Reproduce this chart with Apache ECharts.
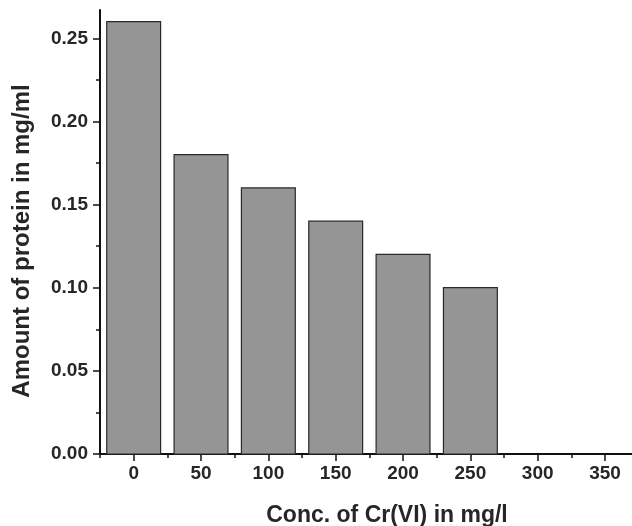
<!DOCTYPE html>
<html>
<head>
<meta charset="utf-8">
<script src="https://cdn.jsdelivr.net/npm/echarts@6/dist/echarts.min.js"></script>
<style>
  html, body { margin: 0; padding: 0; background: #fff; }
  #main { width: 632px; height: 526px; }
</style>
</head>
<body>
<div id="main"></div>
<script>
// data
var concentrations = [0, 50, 100, 150, 200, 250];
var proteinValues = [0.26, 0.18, 0.16, 0.14, 0.12, 0.10];
var xMajorTicks = [0, 50, 100, 150, 200, 250, 300, 350];
var xMinorTicks = [-25, 25, 75, 125, 175, 225, 275, 325];
var yMajorTicks = [0, 0.05, 0.10, 0.15, 0.20, 0.25];
var yMinorTicks = [0.025, 0.075, 0.125, 0.175, 0.225];
var barHalfWidth = 20; // bars span +/-20 around each concentration

var myChart = echarts.init(document.getElementById('main'));

var fontFam = '"Liberation Sans", Arial, sans-serif';
var textCol = '#262626';

var xRange = { min: -25, max: 370 };
var yRange = { min: 0, max: 0.267 };

var option = {
    animation: false,
    backgroundColor: '#fff',
    grid: { left: 100, right: 0, top: 10, bottom: 72, outerBoundsMode: 'none', containLabel: false },
    xAxis: [{
        type: 'value',
        min: xRange.min,
        max: xRange.max,
        splitLine: { show: false },
        axisLine: { onZero: false, lineStyle: { color: '#111', width: 2 } },
        axisTick: { customValues: xMajorTicks, length: 7, lineStyle: { color: '#111', width: 1.5 } },
        axisLabel: {
            customValues: xMajorTicks, margin: 10,
            fontFamily: fontFam, fontWeight: 'bold', fontSize: 19, color: textCol
        },
        name: 'Conc. of Cr(VI) in mg/l',
        nameLocation: 'middle',
        nameGap: 50,
        nameTextStyle: { fontFamily: fontFam, fontWeight: 'bold', fontSize: 23, color: textCol, padding: [0, 0, 0, 42] }
    }, {
        type: 'value',
        position: 'bottom',
        min: xRange.min,
        max: xRange.max,
        splitLine: { show: false },
        axisLine: { show: false, onZero: false },
        axisTick: { customValues: xMinorTicks, length: 4, lineStyle: { color: '#111', width: 1.5 } },
        axisLabel: { show: false }
    }],
    yAxis: [{
        type: 'value',
        min: yRange.min,
        max: yRange.max,
        splitLine: { show: false },
        axisLine: { show: true, onZero: false, lineStyle: { color: '#111', width: 2 } },
        axisTick: { show: true, customValues: yMajorTicks, length: 7, lineStyle: { color: '#111', width: 1.5 } },
        axisLabel: {
            customValues: yMajorTicks, margin: 12,
            formatter: function (v) { return v.toFixed(2); },
            fontFamily: fontFam, fontWeight: 'bold', fontSize: 19, color: textCol
        },
        name: 'Amount of protein in mg/ml',
        nameLocation: 'middle',
        nameGap: 66,
        nameTextStyle: { fontFamily: fontFam, fontWeight: 'bold', fontSize: 24, color: textCol, padding: [0, 18, 0, 0] }
    }, {
        type: 'value',
        position: 'left',
        min: yRange.min,
        max: yRange.max,
        splitLine: { show: false },
        axisLine: { show: false, onZero: false },
        axisTick: { show: true, customValues: yMinorTicks, length: 4, lineStyle: { color: '#111', width: 1.5 } },
        axisLabel: { show: false }
    }],
    series: [{
        type: 'custom',
        data: concentrations.map(function (c, i) { return [c, proteinValues[i]]; }),
        renderItem: function (params, api) {
            var x = api.value(0), y = api.value(1);
            var p0 = api.coord([x - barHalfWidth, y]);
            var p1 = api.coord([x + barHalfWidth, 0]);
            return {
                type: 'rect',
                shape: { x: p0[0], y: p0[1], width: p1[0] - p0[0], height: p1[1] - p0[1] },
                style: { fill: '#959595', stroke: '#2a2a2a', lineWidth: 1.2 }
            };
        }
    }]
};

myChart.setOption(option);
</script>
</body>
</html>
